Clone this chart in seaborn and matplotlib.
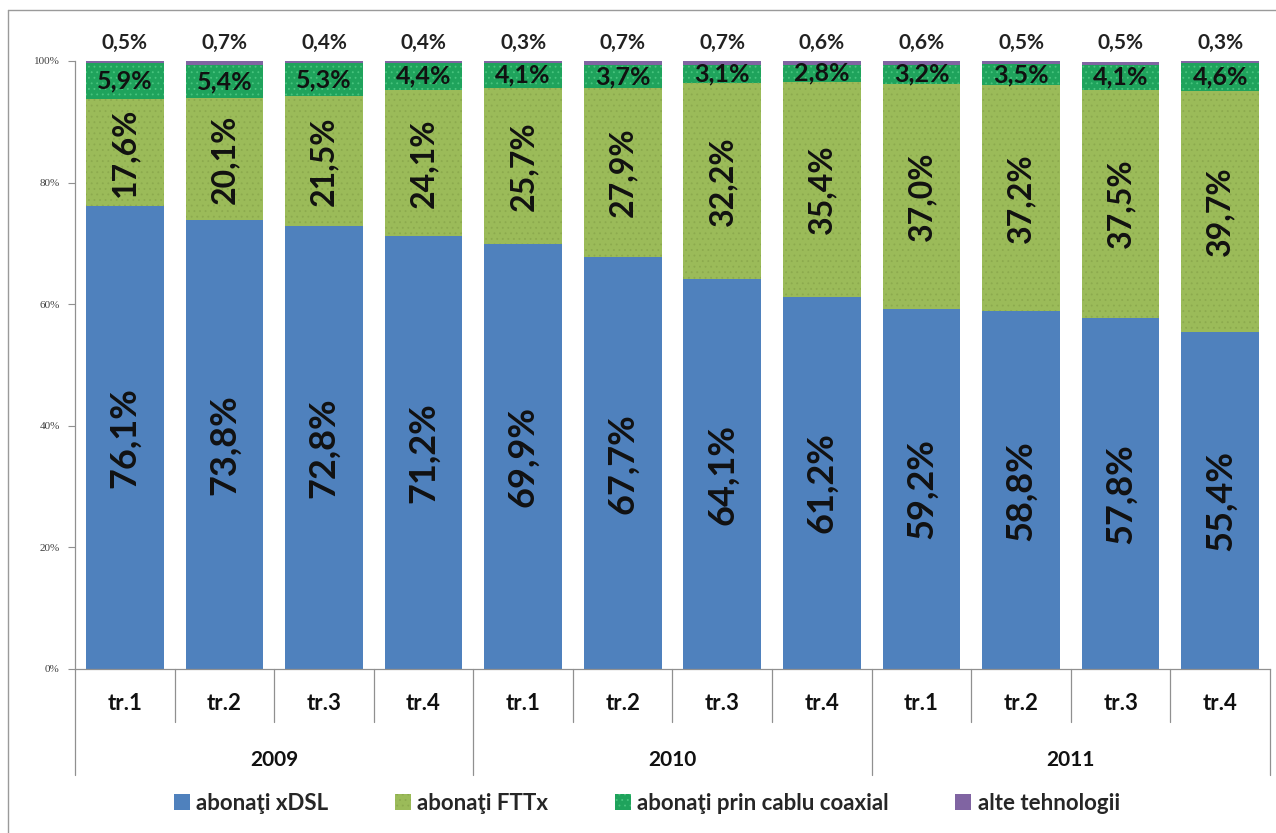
import numpy as np
import pandas as pd
import matplotlib.pyplot as plt
import matplotlib.transforms as mtransforms
from matplotlib.lines import Line2D
from matplotlib.patches import Patch
import seaborn as sns

# date (procente din totalul abonatilor)
ani = ['2009', '2010', '2011']
trimestre = ['tr.1', 'tr.2', 'tr.3', 'tr.4']
xdsl = [76.1, 73.8, 72.8, 71.2, 69.9, 67.7, 64.1, 61.2, 59.2, 58.8, 57.8, 55.4]
fttx = [17.6, 20.1, 21.5, 24.1, 25.7, 27.9, 32.2, 35.4, 37.0, 37.2, 37.5, 39.7]
coax = [5.9, 5.4, 5.3, 4.4, 4.1, 3.7, 3.1, 2.8, 3.2, 3.5, 4.1, 4.6]
alte = [0.5, 0.7, 0.4, 0.4, 0.3, 0.7, 0.7, 0.6, 0.6, 0.5, 0.5, 0.3]
serii = ['abonaţi xDSL', 'abonaţi FTTx', 'abonaţi prin cablu coaxial', 'alte tehnologii']

culori = ['#4F81BD', '#9BBB59', '#1FA35C', '#8064A2']
hasuri = ['', '...', '...', '']
culori_hasura = ['#4F81BD', '#8CAA4E', '#48C47E', '#8064A2']

sns.set_style('white')
plt.rcParams['font.family'] = ['Lato', 'DejaVu Sans']
plt.rcParams['hatch.linewidth'] = 0.6

perioade = [f'{a} {t}' for a in ani for t in trimestre]
df = pd.DataFrame({'perioada': perioade, 'xdsl': xdsl, 'fttx': fttx, 'coax': coax, 'alte': alte})
df['c1'] = df['xdsl']
df['c2'] = df['c1'] + df['fttx']
df['c3'] = df['c2'] + df['coax']
df['c4'] = df['c3'] + df['alte']

fig = plt.figure(figsize=(12.76, 8.33), dpi=100)
ax = fig.add_axes([75 / 1276, 1 - 669 / 833, (1270 - 75) / 1276, (669 - 61) / 833])

# barele cumulate, de sus in jos, fiecare acopera partea de jos a celei precedente
for col, i in [('c4', 3), ('c3', 2), ('c2', 1), ('c1', 0)]:
    sns.barplot(data=df, x='perioada', y=col, order=perioade, color=culori[i], width=0.78,
                saturation=1, edgecolor=culori_hasura[i], linewidth=0, hatch=hasuri[i], ax=ax)

ax.set_ylim(0, 100)
ax.set_xlim(-0.5, 11.5)
ax.set_yticks(range(0, 101, 20))
ax.set_yticklabels([f'{v}%' for v in range(0, 101, 20)], fontsize=8, color='#404040',
                   family=['Liberation Serif'])
ax.tick_params(axis='y', length=5, width=0.8, color='#909090', left=True, pad=6)
ax.set_xticks([])
ax.set_xlabel('')
ax.set_ylabel('')
for s in ['top', 'right']:
    ax.spines[s].set_visible(False)
for s in ['left', 'bottom']:
    ax.spines[s].set_color('#909090')
    ax.spines[s].set_linewidth(0.9)

fmt = lambda v: f'{v:.1f}'.replace('.', ',') + '%'
for i in range(12):
    ax.text(i, xdsl[i] / 2, fmt(xdsl[i]), rotation=90, ha='center', va='center',
            fontsize=26, fontweight='bold', color='#111111')
    ax.text(i, df['c1'][i] + fttx[i] / 2, fmt(fttx[i]), rotation=90, ha='center', va='center',
            fontsize=23, fontweight='bold', color='#111111')
    ax.text(i, df['c2'][i] + coax[i] / 2, fmt(coax[i]), ha='center', va='center',
            fontsize=18, fontweight='bold', color='#111111')
    ax.text(i, 103, fmt(alte[i]), ha='center', va='center',
            fontsize=15, fontweight='bold', color='#222222')

# axa x pe doua nivele: trimestre si ani
tr = mtransforms.blended_transform_factory(ax.transData, ax.transAxes)
for i in range(12):
    ax.text(i, -0.056, trimestre[i % 4], transform=tr, ha='center', va='center',
            fontsize=16, fontweight='bold', color='#111111')
for k, a in enumerate(ani):
    ax.text(4 * k + 1.5, -0.150, a, transform=tr, ha='center', va='center',
            fontsize=15, fontweight='bold', color='#111111')
for j in range(13):
    jos = -0.174 if j % 4 == 0 else -0.087
    ax.add_line(Line2D([j - 0.5, j - 0.5], [0, jos], transform=tr, color='#909090',
                       linewidth=0.9, clip_on=False))

handles = [Patch(facecolor=culori[i], edgecolor=culori_hasura[i], hatch=hasuri[i], linewidth=0)
           for i in range(4)]
fig.legend(handles, serii, loc='center', bbox_to_anchor=(0.507, 0.036), ncol=4, frameon=False,
           handlelength=0.7, handleheight=0.7, handletextpad=0.3, columnspacing=3.0,
           prop={'size': 16, 'weight': 'bold'})

# chenarul graficului
fig.add_artist(Line2D([8 / 1276, 8 / 1276], [0, 1 - 10 / 833], transform=fig.transFigure,
                      color='#9a9a9a', linewidth=1))
fig.add_artist(Line2D([8 / 1276, 1], [1 - 10 / 833, 1 - 10 / 833], transform=fig.transFigure,
                      color='#9a9a9a', linewidth=1))

fig.savefig('out.png', dpi=100)
